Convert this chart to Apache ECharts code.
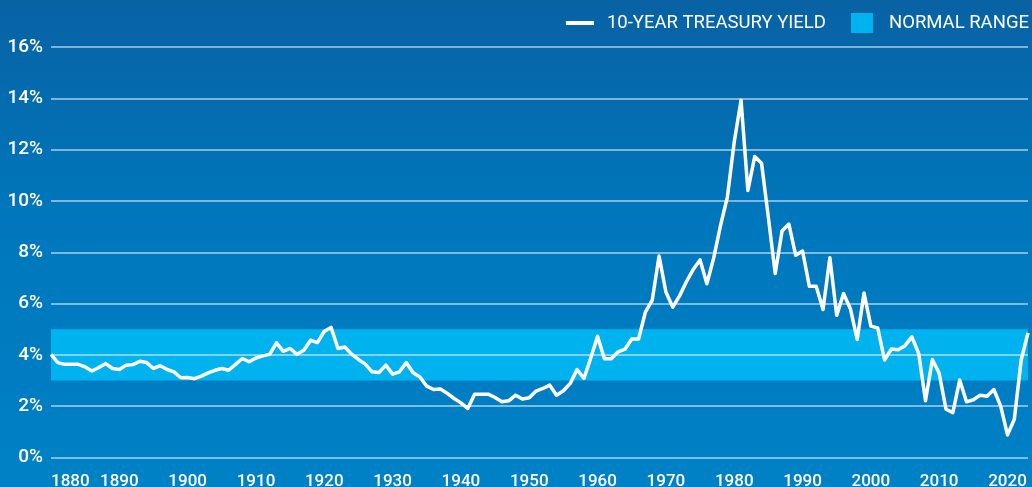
<!DOCTYPE html>
<html>
<head>
<meta charset="utf-8">
<title>10-Year Treasury Yield</title>
<script src="https://cdn.jsdelivr.net/npm/echarts@6/dist/echarts.min.js"></script>
<style>
    html, body { margin: 0; padding: 0; }
    #chart { width: 1032px; height: 487px; }
</style>
</head>
<body>
<div id="chart"></div>
<script>
    // annual yields, one per year from firstYear
    var firstYear = 1880
    var lastYear = 2023
    var yields = [
        4.02, 3.70, 3.63, 3.63, 3.63, 3.53, 3.37, 3.51, 3.66, 3.47,   // 1880s
        3.43, 3.60, 3.62, 3.75, 3.70, 3.47, 3.58, 3.43, 3.34, 3.11,   // 1890s
        3.12, 3.07, 3.17, 3.30, 3.40, 3.47, 3.40, 3.63, 3.86, 3.73,   // 1900s
        3.88, 3.96, 4.02, 4.47, 4.14, 4.25, 4.02, 4.18, 4.57, 4.48,   // 1910s
        4.92, 5.07, 4.25, 4.31, 4.03, 3.82, 3.64, 3.34, 3.31, 3.60,   // 1920s
        3.25, 3.34, 3.70, 3.30, 3.14, 2.78, 2.65, 2.67, 2.50, 2.30,   // 1930s
        2.13, 1.91, 2.47, 2.47, 2.47, 2.34, 2.17, 2.21, 2.43, 2.28,   // 1940s
        2.33, 2.59, 2.69, 2.82, 2.43, 2.60, 2.89, 3.43, 3.08, 3.88,   // 1950s
        4.72, 3.85, 3.85, 4.12, 4.22, 4.62, 4.62, 5.67, 6.13, 7.85,   // 1960s
        6.45, 5.86, 6.30, 6.85, 7.33, 7.70, 6.77, 7.78, 9.05, 10.15,  // 1970s
        12.30, 13.92, 10.41, 11.73, 11.47, 9.35, 7.17, 8.83, 9.10, 7.88, // 1980s
        8.05, 6.67, 6.67, 5.77, 7.79, 5.54, 6.39, 5.80, 4.60, 6.41,   // 1990s
        5.12, 5.05, 3.80, 4.23, 4.20, 4.36, 4.70, 4.05, 2.21, 3.82,   // 2000s
        3.28, 1.88, 1.75, 3.02, 2.17, 2.25, 2.43, 2.39, 2.65, 2.00,   // 2010s
        0.88, 1.49, 3.80, 4.86                                        // 2020s
    ]
    var normalRange = [3, 5]
    var yTicks = [0, 2, 4, 6, 8, 10, 12, 14, 16]

    var lineName = '10-YEAR TREASURY YIELD'
    var bandName = 'NORMAL RANGE'
    var bandColor = '#00b3ee'
    var font = 'Roboto, sans-serif'

    var points = yields.map(function (v, i) { return [firstYear + i, v] })

    var option = {
        backgroundColor: {
            type: 'linear', x: 0, y: 0, x2: 0, y2: 1,
            colorStops: [
                { offset: 0, color: '#0862a4' },
                { offset: 0.45, color: '#0077bc' },
                { offset: 1, color: '#0081c6' }
            ]
        },
        animation: false,
        legend: {
            right: 3,
            top: 13,
            padding: 0,
            itemWidth: 28,
            itemHeight: 20,
            itemGap: 25,
            textStyle: {
                color: '#fff',
                fontFamily: font,
                fontSize: 18.5,
                padding: [0, 0, 0, 8]
            },
            data: [
                { name: lineName, icon: 'path://M0,0H28V4H0Z' },
                { name: bandName, icon: 'path://M0,0H22V20H0Z' }
            ]
        },
        grid: {
            left: 51,
            right: 4,
            top: 47,
            bottom: 29.5,
            outerBoundsMode: 'none'
        },
        xAxis: {
            type: 'value',
            min: firstYear,
            max: lastYear,
            interval: 10,
            axisLine: { show: false },
            axisTick: { show: false },
            splitLine: { show: false },
            axisLabel: {
                color: '#fff',
                fontFamily: font,
                fontSize: 17,
                fontWeight: 500,
                margin: 16,
                alignMinLabel: 'left',
                showMaxLabel: false,
                formatter: function (v) { return v % 10 === 0 ? String(v) : '' }
            }
        },
        yAxis: {
            type: 'value',
            min: yTicks[0],
            max: yTicks[yTicks.length - 1],
            interval: 2,
            z: 2,
            axisLine: { show: false },
            axisTick: { show: false },
            axisLabel: {
                color: '#fff',
                fontFamily: font,
                fontSize: 19,
                fontWeight: 500,
                margin: 8,
                formatter: '{value}%'
            },
            splitLine: {
                lineStyle: { color: 'rgba(225, 238, 248, 0.75)', width: 1.5 }
            }
        },
        series: [
            {
                name: bandName,
                type: 'line',
                z: 1,
                data: [],
                symbol: 'none',
                itemStyle: { color: bandColor },
                lineStyle: { color: bandColor },
                markArea: {
                    silent: true,
                    itemStyle: { color: bandColor },
                    data: [[{ yAxis: normalRange[0] }, { yAxis: normalRange[1] }]]
                }
            },
            {
                name: lineName,
                type: 'line',
                z: 3,
                data: points,
                symbol: 'none',
                itemStyle: { color: '#fff' },
                lineStyle: { color: '#fff', width: 3.5, join: 'round' }
            }
        ]
    }

    var chart = echarts.init(document.getElementById('chart'))
    chart.setOption(option)
</script>
</body>
</html>
